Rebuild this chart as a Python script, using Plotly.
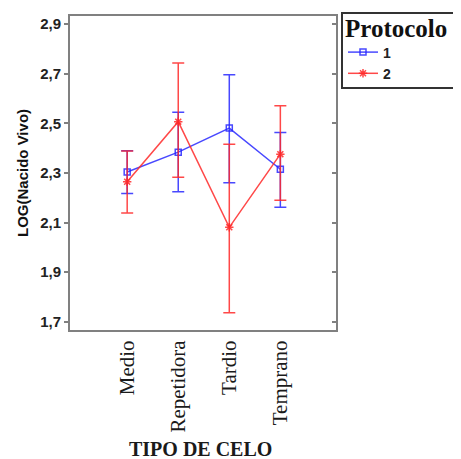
import plotly.graph_objects as go

categories = ["Medio", "Repetidora", "Tardio", "Temprano"]
p1_mean = [2.304, 2.384, 2.481, 2.315]
p1_upper = [2.39, 2.545, 2.696, 2.463]
p1_lower = [2.217, 2.224, 2.261, 2.162]
p2_mean = [2.265, 2.507, 2.081, 2.376]
p2_upper = [2.389, 2.743, 2.416, 2.571]
p2_lower = [2.139, 2.283, 1.737, 2.190]
y_ticks = [1.7, 1.9, 2.1, 2.3, 2.5, 2.7, 2.9]

xpos = list(range(len(categories)))
blue = "rgba(40,40,255,0.85)"
red = "rgba(255,40,40,0.85)"

def errs(mean, up, lo):
    return ([u - m for u, m in zip(up, mean)], [m - l for m, l in zip(mean, lo)])

e1p, e1m = errs(p1_mean, p1_upper, p1_lower)
e2p, e2m = errs(p2_mean, p2_upper, p2_lower)

fig = go.Figure()
fig.add_trace(go.Scatter(
    x=xpos, y=p1_mean, name="1", mode="lines+markers",
    line=dict(color=blue, width=1.5),
    marker=dict(symbol="square-open", size=6, color=blue, line=dict(width=1.5)),
    error_y=dict(type="data", symmetric=False, array=e1p, arrayminus=e1m,
                 color=blue, thickness=1.5, width=6),
))
fig.add_trace(go.Scatter(
    x=xpos, y=p2_mean, name="2", mode="lines+markers",
    line=dict(color=red, width=1.5),
    marker=dict(symbol="asterisk-open", size=7, color=red, line=dict(width=1.5, color=red)),
    error_y=dict(type="data", symmetric=False, array=e2p, arrayminus=e2m,
                 color=red, thickness=1.5, width=6),
))
# invisible trace for right-side inside ticks
fig.add_trace(go.Scatter(x=[0], y=[2.3], yaxis="y2", showlegend=False,
                         mode="markers", marker=dict(opacity=0), hoverinfo="skip"))

# page body has an 8px margin; work in page pixels and convert
OFF = 8
W, H = 461 - OFF, 459 - OFF
PL, PR, PT, PB = 70, 336, 16, 330  # plot area in page pixels
L, T = PL - OFF, PT - OFF
R, B = W - (PR - OFF), H - (PB - OFF)
pw, ph = W - L - R, H - T - B

def px_x(x):
    return (x - OFF - L) / pw

def px_y(y):
    return (H - B - (y - OFF)) / ph

yr = [1.667, 2.933]
fig.update_layout(
    width=W, height=H,
    margin=dict(l=L, r=R, t=T, b=B, autoexpand=False),
    paper_bgcolor="white", plot_bgcolor="white",
    separators=",.",
    showlegend=True,
    xaxis=dict(
        range=[-1.12, 4.09], tickmode="array", tickvals=xpos, ticktext=categories,
        tickangle=-90, showgrid=False, zeroline=False, automargin=False,
        showline=True, linecolor="#808080", linewidth=2, mirror=True,
        ticks="",
        tickfont=dict(family="Liberation Serif", size=21, color="#1a1a1a"),
    ),
    yaxis=dict(
        range=yr, tickmode="array", tickvals=y_ticks, tickformat=".1f",
        showgrid=False, zeroline=False, automargin=False,
        showline=True, linecolor="#808080", linewidth=2, mirror=True,
        ticks="outside", ticklen=4, tickcolor="#808080", tickwidth=1.5,
        tickfont=dict(family="Liberation Sans", size=15, color="#222222", weight="bold"),
        title=dict(text="<b>LOG(Nacido Vivo)</b>", font=dict(family="Liberation Sans", size=15, color="#111111"),
                   standoff=8),
    ),
    yaxis2=dict(
        range=yr, overlaying="y", side="right", tickmode="array", tickvals=y_ticks,
        showticklabels=False, showgrid=False, zeroline=False, showline=False,
        ticks="inside", ticklen=4, tickcolor="#808080", tickwidth=1.5,
    ),
    legend=dict(
        x=px_x(343), y=px_y(4), xanchor="left", yanchor="top",
        borderwidth=0, bgcolor="rgba(0,0,0,0)",
        title=dict(text="<b>Protocolo</b>", font=dict(family="Liberation Serif", size=25, color="#111111")),
        font=dict(family="Liberation Sans", size=14, color="#222222", weight="bold"),
        tracegroupgap=0, itemwidth=30,
    ),
    annotations=[dict(text="<b>TIPO DE CELO</b>", xref="paper", yref="paper",
                      x=px_x(200), y=px_y(449), xanchor="center", yanchor="middle",
                      showarrow=False,
                      font=dict(family="Liberation Serif", size=20, color="#1a1a1a"))],
    shapes=[dict(type="rect", xref="paper", yref="paper",
                 x0=px_x(342), x1=px_x(460), y0=px_y(88), y1=px_y(13),
                 line=dict(color="#333333", width=2), fillcolor="rgba(0,0,0,0)", layer="below")],
)

fig.write_html("out.html")
